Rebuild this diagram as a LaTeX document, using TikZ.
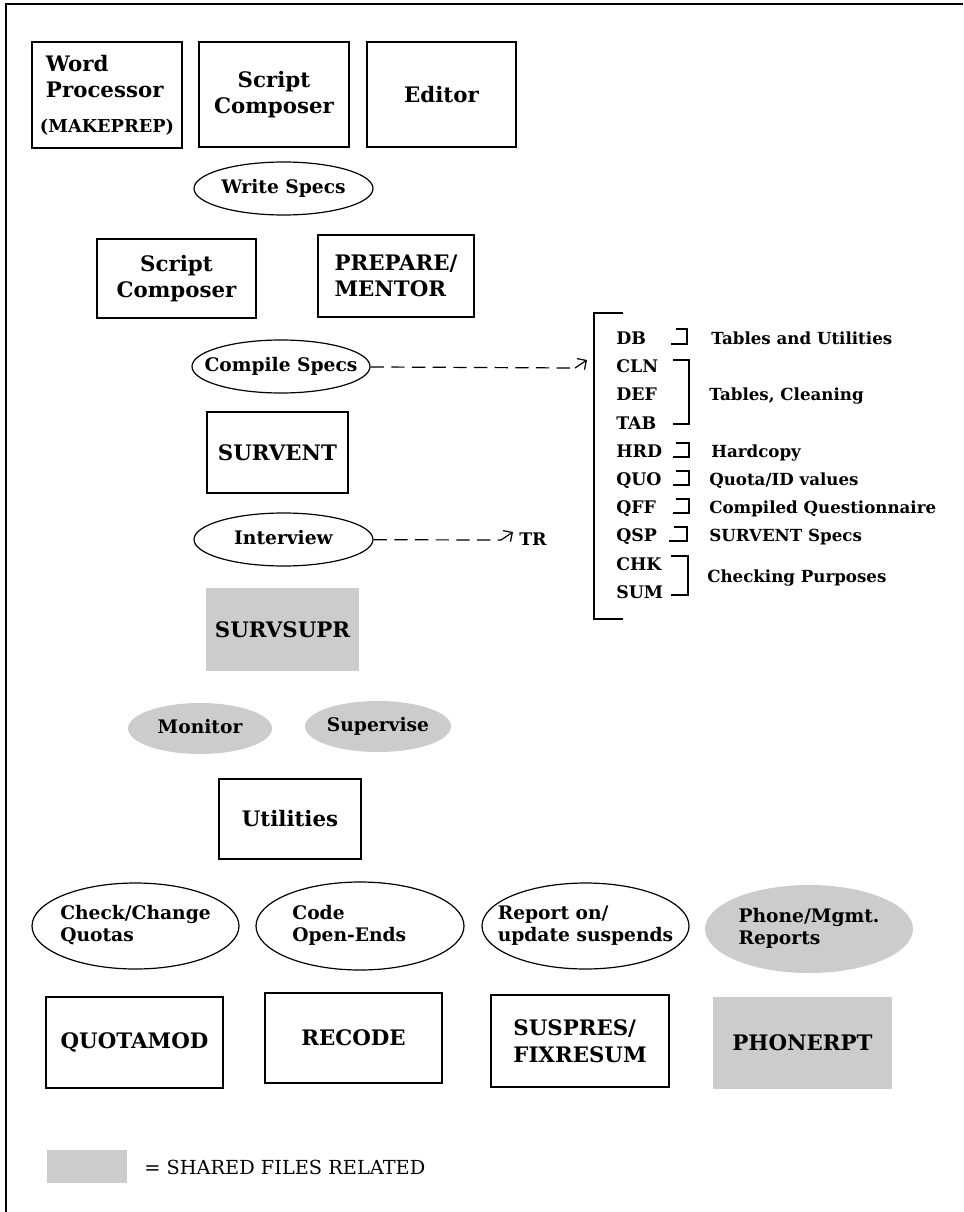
\documentclass[tikz,border=0pt]{standalone}
\usepackage{fontspec}
\setmainfont{DejaVu Serif}
\usetikzlibrary{shapes.geometric,arrows.meta}

\definecolor{shared}{RGB}{204,204,204}
\newcommand{\ovaltext}[1]{\makebox[0pt]{\begin{tabular}{@{}l@{}}#1\end{tabular}}}

\tikzset{
  box/.style={draw, rectangle, line width=1.2pt, inner sep=0pt, font=\fontsize{16}{20}\selectfont\bfseries},
  sharedbox/.style={fill=shared, rectangle, inner sep=0pt, font=\fontsize{16}{20}\selectfont\bfseries},
  oval/.style={draw, ellipse, line width=0.9pt, inner sep=0pt, font=\fontsize{14}{17}\selectfont\bfseries},
  sharedoval/.style={fill=shared, ellipse, inner sep=0pt, font=\fontsize{14}{17}\selectfont\bfseries},
  filecode/.style={anchor=west, inner sep=0pt, text height=9.5pt, text depth=0pt, font=\fontsize{13}{15}\selectfont\bfseries},
  filenote/.style={anchor=west, inner sep=0pt, text height=9pt, text depth=0pt, font=\fontsize{12.5}{15}\selectfont\bfseries},
  dashedline/.style={line width=0.9pt, dash pattern=on 10pt off 5.5pt},
  arrowend/.style={line width=0.9pt, -{Straight Barb[length=5pt,width=10pt]}},
}

\begin{document}
\begin{tikzpicture}[x=0.75pt,y=0.75pt,yscale=-1,xscale=1]
\useasboundingbox (0,0) rectangle (963,1212);

%Shape: Frame
\draw[line width=1.5pt] (6,1212) -- (6,4) -- (963,4) ;

%Shape: Rectangle [top row]
\node[box, minimum width=112.5pt, minimum height=79.5pt, align=left] (wp) at (107,95) {\hspace*{4.5pt}Word\\\hspace*{4.5pt}Processor\\[6pt]{\fontsize{13.3}{16}\selectfont (MAKEPREP)}};
\node[box, minimum width=112.5pt, minimum height=78.75pt, align=center] (scA) at (274,94.5) {Script\\Composer};
\node[box, minimum width=111.75pt, minimum height=78.75pt] (ed) at (441.5,94.5) {Editor};

%Shape: Ellipse
\node[oval, minimum width=134.25pt, minimum height=39.75pt] (ws) at (283.5,188.5) {\ovaltext{Write Specs}};

%Shape: Rectangle
\node[box, minimum width=119.25pt, minimum height=59.25pt, align=center] (scB) at (176.5,278.5) {Script\\Composer};
\node[box, minimum width=117pt, minimum height=61.5pt, align=left] (pm) at (396,276) {PREPARE/\\MENTOR};

%Shape: Ellipse
\node[oval, minimum width=133.5pt, minimum height=39.75pt] (cs) at (281,366.5) {\ovaltext{Compile Specs}};

%Shape: Rectangle
\node[box, minimum width=105.75pt, minimum height=60.75pt] (sv) at (277.5,452.5) {SURVENT};

%Shape: Ellipse
\node[oval, minimum width=134.25pt, minimum height=39.75pt] (iv) at (283.5,539.5) {\ovaltext{Interview}};

%Shape: Rectangle [shared]
\node[sharedbox, minimum width=114.75pt, minimum height=62.25pt] (ss) at (282.5,629.5) {SURVSUPR};

%Shape: Ellipse [shared]
\node[sharedoval, minimum width=108pt, minimum height=38.25pt] (mo) at (200,728.5) {\ovaltext{Monitor}};
\node[sharedoval, minimum width=109.5pt, minimum height=38.25pt] (su) at (378,726.5) {\ovaltext{Supervise}};

%Shape: Rectangle
\node[box, minimum width=106.5pt, minimum height=60pt] (ut) at (290,819) {Utilities};

%Shape: Ellipse [bottom row]
\node[oval, minimum width=155.25pt, minimum height=64.5pt] (cc) at (135.5,926) {\ovaltext{Check/Change\\Quotas}};
\node[oval, minimum width=156pt, minimum height=66pt] (co) at (360,926) {\hspace*{-16pt}\ovaltext{Code\\Open-Ends}};
\node[oval, minimum width=155.25pt, minimum height=64.5pt] (ro) at (585.5,926) {\ovaltext{Report on/\\update suspends}};
\node[sharedoval, minimum width=156pt, minimum height=66pt] (pr) at (809,929) {\ovaltext{Phone/Mgmt.\\Reports}};

%Shape: Rectangle [bottom row]
\node[box, minimum width=132.75pt, minimum height=68.25pt] (qm) at (134.5,1042.5) {QUOTAMOD};
\node[box, minimum width=132.75pt, minimum height=67.5pt] (rc) at (353.5,1038) {RECODE};
\node[box, minimum width=133.5pt, minimum height=69pt, align=left] (sf) at (580,1041) {SUSPRES/\\FIXRESUM};
\node[sharedbox, minimum width=134.25pt, minimum height=69pt] (pp) at (802.5,1043) {PHONERPT};

%Shape: Legend
\node[sharedbox, minimum width=60pt, minimum height=24.75pt] (leg) at (87,1166.5) {};
% Text Node
\node[anchor=west, inner sep=0pt, font=\fontsize{14.5}{17}\selectfont] (legtext) at (144,1167) {= SHARED FILES RELATED};

% Text Node [file list]
\node[filecode] (db)  at (616,338) {DB};
\node[filecode] (cln) at (616,366) {CLN};
\node[filecode] (def) at (616,394) {DEF};
\node[filecode] (tab) at (616,423) {TAB};
\node[filecode] (hrd) at (616,451) {HRD};
\node[filecode] (quo) at (616,479) {QUO};
\node[filecode] (qff) at (616,507) {QFF};
\node[filecode] (qsp) at (616,535) {QSP};
\node[filecode] (chk) at (616,564) {CHK};
\node[filecode] (sum) at (616,592) {SUM};

% Text Node [file notes]
\node[filenote] (dbnote)  at (711,338) {Tables and Utilities};
\node[filenote] (tabnote) at (709,394) {Tables, Cleaning};
\node[filenote] (hrdnote) at (711,451) {Hardcopy};
\node[filenote] (quonote) at (709,479) {Quota/ID values};
\node[filenote] (qffnote) at (709,507) {Compiled Questionnaire};
\node[filenote] (qspnote) at (709,535) {SURVENT Specs};
\node[filenote] (chknote) at (707,576) {Checking Purposes};

%Shape: Brackets
\draw[line width=1pt] (623,313) -- (594,313) -- (594,619) -- (623,619) ;
\draw[line width=1pt] (676,329) -- (687,329) -- (687,344) -- (671,344) ;
\draw[line width=1pt] (673,360) -- (689,360) -- (689,424) -- (673,424) ;
\draw[line width=1pt] (676,443) -- (689,443) -- (689,457) -- (673,457) ;
\draw[line width=1pt] (676,471) -- (689,471) -- (689,485) -- (673,485) ;
\draw[line width=1pt] (676,499) -- (689,499) -- (689,513) -- (673,513) ;
\draw[line width=1pt] (674,527) -- (687,527) -- (687,541) -- (669,541) ;
\draw[line width=1pt] (671,556) -- (688,556) -- (688,595) -- (671,595) ;

% Text Node
\node[filecode] (tr) at (519,539) {TR};

%Straight Lines [dashed]
\coordinate (csend) at (575,368);
\coordinate (cstip) at (587,360);
\draw[dashedline] (cs) -- (csend) ;
\draw[arrowend] (csend) -- (cstip) ;

\coordinate (ivend) at (501,540);
\coordinate (ivtip) at (513,532);
\draw[dashedline] (iv) -- (ivend) ;
\draw[arrowend] (ivend) -- (ivtip) ;
\end{tikzpicture}
\end{document}
